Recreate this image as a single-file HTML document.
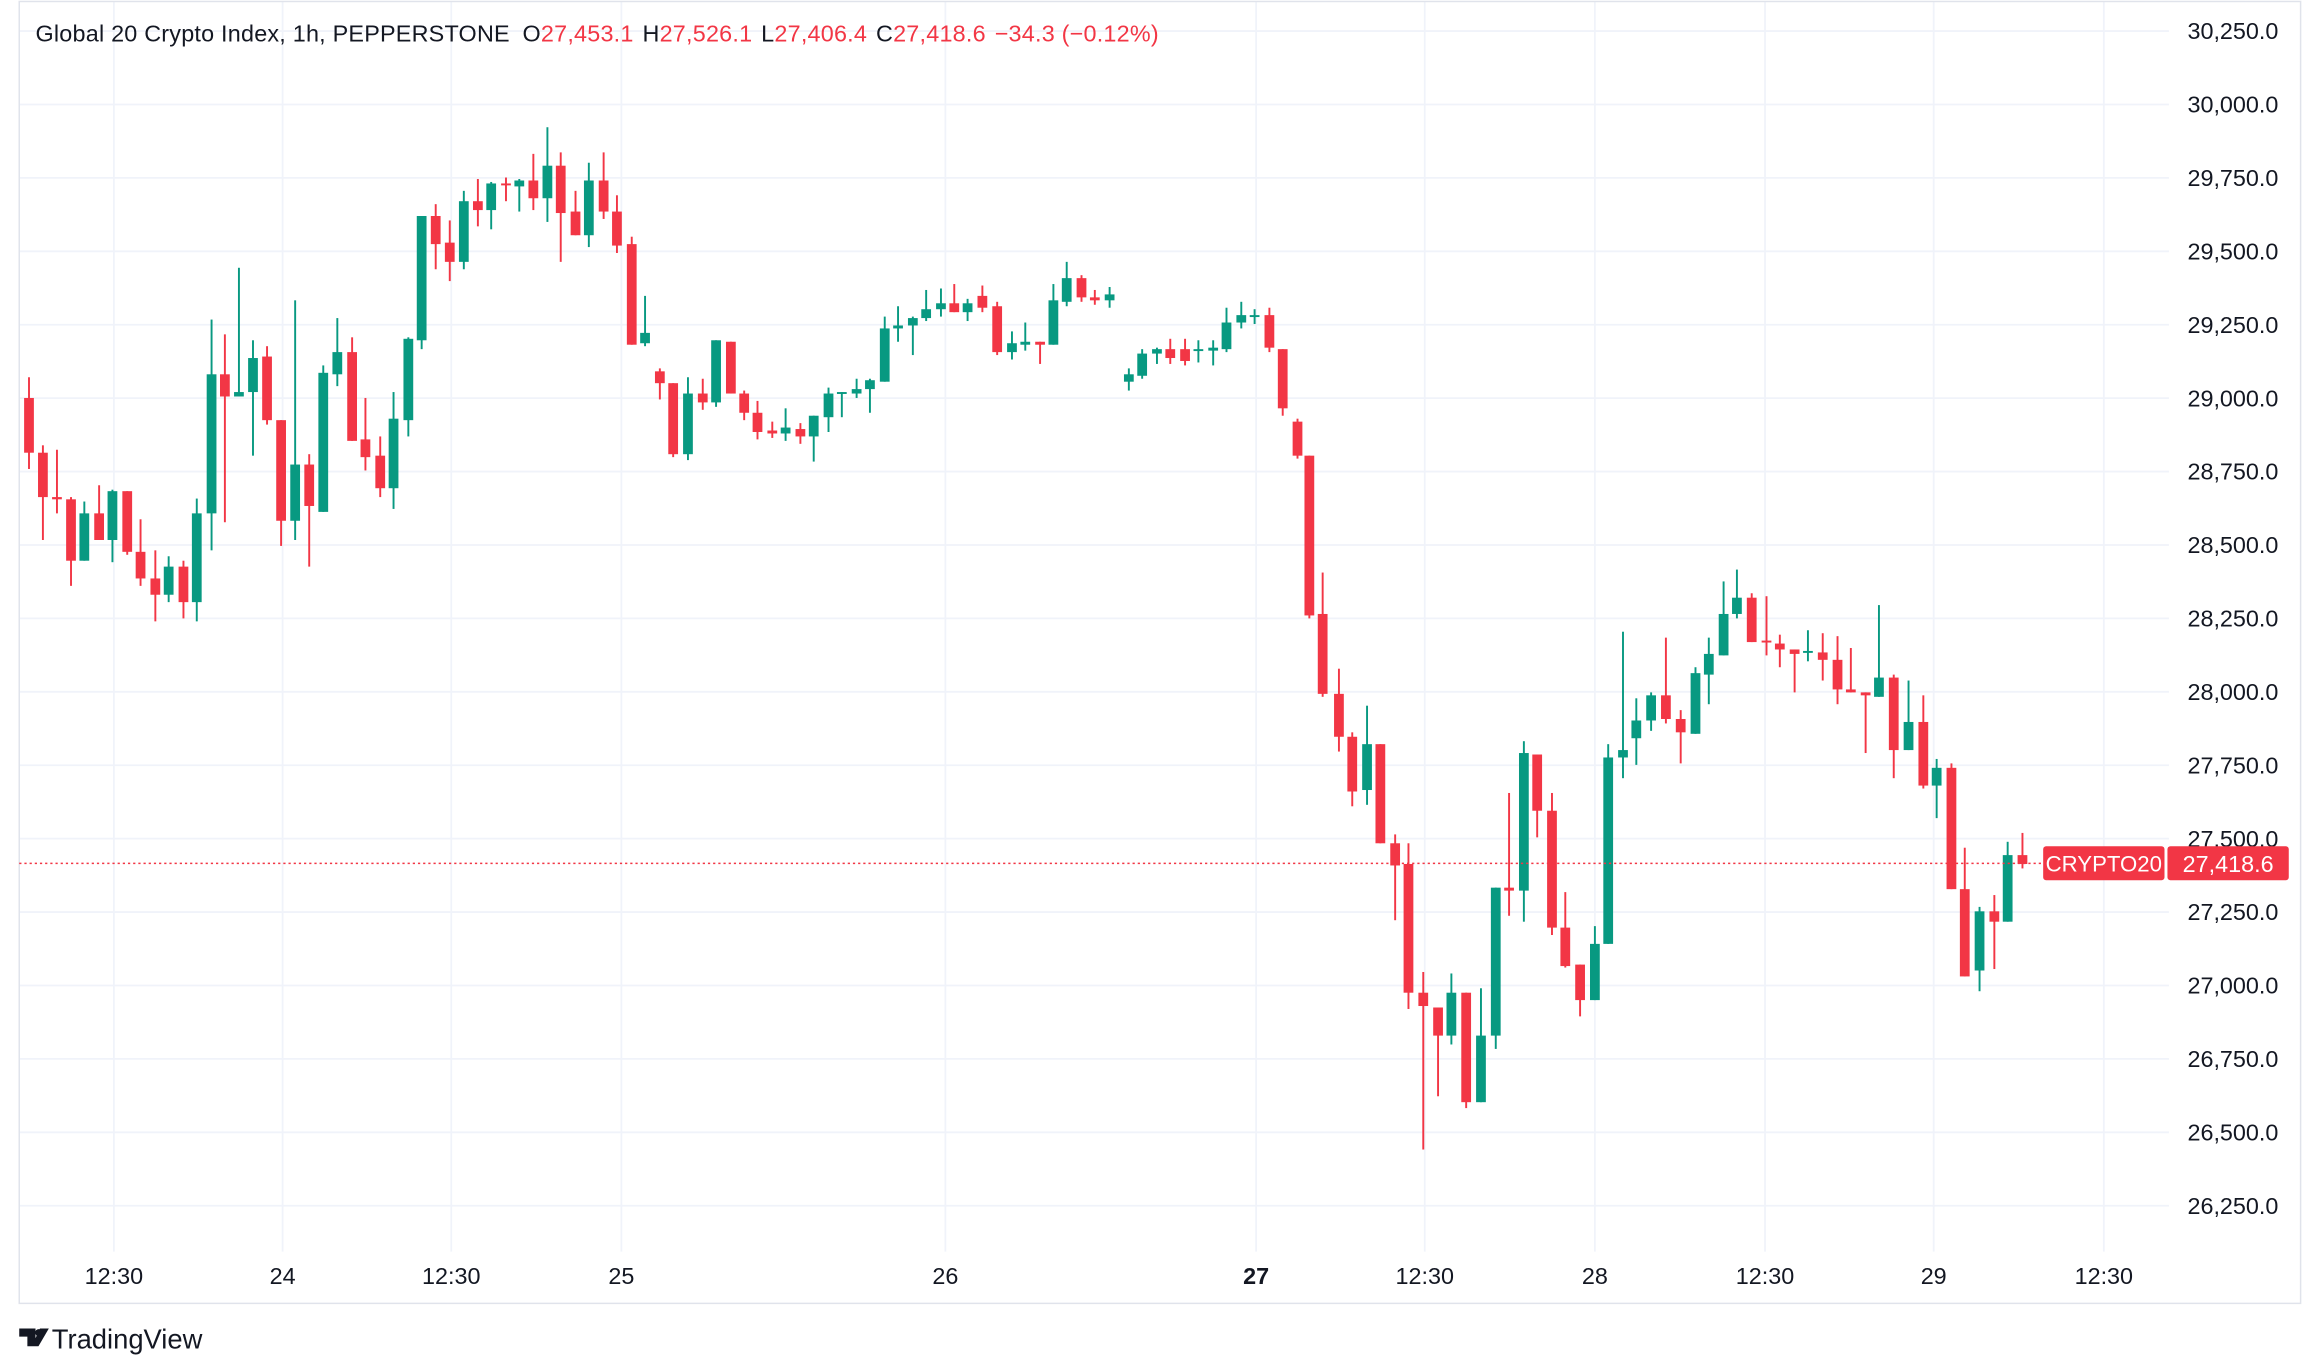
<!DOCTYPE html>
<html><head><meta charset="utf-8">
<style>
html,body{margin:0;padding:0;background:#fff;}
svg{display:block;}
text{font-family:"Liberation Sans","DejaVu Sans",sans-serif;}
</style></head>
<body>
<svg id="s" width="2308" height="1367" viewBox="0 0 1560 924" preserveAspectRatio="none" xmlns="http://www.w3.org/2000/svg">
<rect x="0" y="0" width="1560" height="924" fill="#fff"/>
<g id="grid"></g>
<g id="candles"></g>
<g id="axis"></g>
<rect x="13" y="1" width="1542" height="880" fill="none" stroke="#e0e3eb" stroke-width="1"/>
<text x="24" y="28" font-size="15.8" letter-spacing="0.15" fill="#131722">Global 20 Crypto Index, 1h, PEPPERSTONE <tspan dx="4">O</tspan><tspan fill="#f23645">27,453.1</tspan><tspan dx="6">H</tspan><tspan fill="#f23645">27,526.1</tspan><tspan dx="6">L</tspan><tspan fill="#f23645">27,406.4</tspan><tspan dx="6">C</tspan><tspan fill="#f23645">27,418.6</tspan><tspan dx="6" fill="#f23645">−34.3 (−0.12%)</tspan></text>
<line x1="13" y1="583.6" x2="1380" y2="583.6" stroke="#f23645" stroke-width="1" stroke-dasharray="1.5,2"/>
<rect x="1381" y="572" width="82" height="23" rx="2" fill="#f23645"/>
<text x="1422" y="589" font-size="15" fill="#fff" text-anchor="middle">CRYPTO20</text>
<rect x="1465" y="572" width="82" height="23" rx="2" fill="#f23645"/>
<text x="1506" y="589.5" font-size="15.8" fill="#fff" text-anchor="middle">27,418.6</text>
<g transform="translate(13,896)">
<path d="M0 2h11v12h-5.5v-6.5h-5.5z M14 2h6l-7 12h-4.5z" fill="#131722"/>
<circle cx="13.2" cy="4.8" r="2.4" fill="#131722"/>
<text x="22" y="15.5" font-size="18.5" fill="#131722">TradingView</text>
</g>
</svg>
<script>
var NS="http://www.w3.org/2000/svg";
function el(p,t,a){var e=document.createElementNS(NS,t);for(var k in a)e.setAttribute(k,a[k]);p.appendChild(e);return e;}
var grid=document.getElementById('grid'),axis=document.getElementById('axis'),cg=document.getElementById('candles');
function py(p){return 21+(30250-p)*0.1985;}
for(var p=30250;p>=26250;p-=250){
  var y=py(p);
  el(grid,'line',{x1:13,x2:1466,y1:y,y2:y,stroke:'#f0f3fa','stroke-width':1.2});
  var t=el(axis,'text',{x:1540,y:y+5.5,'font-size':15.8,fill:'#131722','text-anchor':'end'});
  t.textContent=p.toLocaleString('en-US')+'.0';
}
var ticks=[[77,'12:30'],[191,'24'],[305,'12:30'],[420,'25'],[639,'26'],[849,'27',1],[963,'12:30'],[1078,'28'],[1193,'12:30'],[1307,'29'],[1422,'12:30']];
ticks.forEach(function(k){
  el(grid,'line',{x1:k[0],x2:k[0],y1:1,y2:846,stroke:'#f0f3fa','stroke-width':1.2});
  var t=el(axis,'text',{x:k[0],y:868,'font-size':15.8,fill:'#131722','text-anchor':'middle','font-weight':k[2]?'bold':'normal'});
  t.textContent=k[1];
});
var D=[
[19.6,269,306,255,317],[29,306,336,301,365],[38.5,336,337.5,304,347],[48,337.5,379,336,396],[57,379,347,339,379],
[67,347,365,328,365],[76,365,332,331,380],[86,332,373,332,375],[95,373,391,351,396],[105,391,402,372,420],
[114,402,383,376,407],[124,383,407,379,418],[133,407,347,337,420],[143,347,253,216,372],[152,253,268,226,353],
[161.5,268,265,181,268],[171,265,242,230,308],[180.5,241,284,234,287],[190,284,352,284,369],[199.5,352,314,203,365],
[209,314,342,307,383],[218.5,346,252,247,346],[228,253,238,215,261],[238,238,298,228,298],[247,297,309,269,318],
[257,308,330,295,336],[266,330,283,265,344],[276,284,229,228,295],[285,230,146,146,236],[294.5,146,165,138,182],
[304,164,177,149,190],[313.5,177,136,129,182],[323,136,142,121,153],[332,142,124,123,155],[342,124,125,120,136],
[351,126,122,121,143],[360.5,122,134,104,142],[370,134,112,86,150],[379,112,144,103,177],[389,143,159,129,159],
[398,159,122,110,167],[408,122,143,103,148],[417,143,166,132,171],[427,165,233,160,233],[436,232,225,200,234],
[446,251,259,249,270],[455,259,307,259,309],[465,307,266,255,311],[475,266,272,256,277],[484,272,230,230,275],
[494,231,266,231,266],[503,266,279,264,284],[512,279,292,271,297],[522,291,293,285,296],[531,293,289,276,298],
[541,290,295,286,300],[550,295,281,281,312],[560,282,266,262,292],[569,266,265,265,282],[579,266,263,256,269],
[588,263,257,256,279],[598,258,222,214,258],[607,222,220,207,231],[617,220,215,214,240],[626,215,209,196,217],
[636,209,205,195,214],[645,205,211,192,211],[654,211,205,202,217],[664,200,208,193,211],[674,207,238,204,240],
[684,238,232,224,243],[693,233,231,218,237],[703,231,233,231,246],[712,233,203,192,233],[721,204,188,177,207],
[731,188,201,186,204],[740,201,203,196,206],[750,203,199,194,208],
[763,258,253,249,264],[772,254,239,236,256],[782,239,236,235,246],[791,236,242,229,246],[801,236,244,229,247],
[810,237,236,230,245],[820,237,235,230,247],[829,236,218,208,238],[839,218,213,204,222],[848,214,213,209,219],
[858,213,235,208,238],[867,236,276,236,281],[877,285,308,283,310],[885,308,416,308,418],
[894,415,469,387,471],[905,469,498,452,508],[914,498,535,495,545],[924,534,503,477,544],[933,503,570,503,570],
[943,570,585,564,622],[952,584,671,570,682],[962,671,680,657,777],[972,681,700,681,741],[981,700,671,658,706],
[991,671,745,671,749],[1001,745,700,668,745],[1011,700,600,600,709],[1020,600,602,536,619],[1030,602,509,501,623],
[1039,510,548,510,566],[1049,548,627,536,632],[1058,627,653,603,654],[1068,652,676,652,687],[1078,676,638,626,676],
[1087,638,512,503,638],[1097,512,507,427,526],[1106,499,487,472,517],[1116,487,470,468,494],[1126,470,486,431,489],
[1136,486,495,480,516],[1146,496,455,451,496],[1155,456,442,431,476],[1165,443,415,393,443],[1174,415,404,385,418],
[1184,404,434,401,434],[1194,433,434,403,443],[1203,435,439,429,451],[1213,439,442,439,468],[1222,441,440,426,447],
[1232,441,446,428,460],[1242,446,466,430,476],[1251,466,468,438,468],[1261,468,470,468,509],[1270,471,458,409,471],
[1280,458,507,456,526],[1290,507,488,460,507],[1300,488,531,470,533],[1309,531,519,513,553],[1319,519,601,516,601],
[1328,601,660,573,660],[1338,656,616,613,670],[1348,616,623,605,655],[1357,623,578,569,623],[1367,578,584,563,587]
];
D.forEach(function(c){
  var x=c[0],o=c[1],cl=c[2],h=c[3],l=c[4];
  var col=(cl<o)?'#089981':'#f23645';
  if(cl===o)col='#089981';
  el(cg,'rect',{x:x-0.65,y:h,width:1.3,height:Math.max(l-h,1),fill:col});
  var top=Math.min(o,cl),bh=Math.max(Math.abs(o-cl),1.3);
  el(cg,'rect',{x:x-3.3,y:top,width:6.6,height:bh,fill:col});
});
</script>
</body></html>
